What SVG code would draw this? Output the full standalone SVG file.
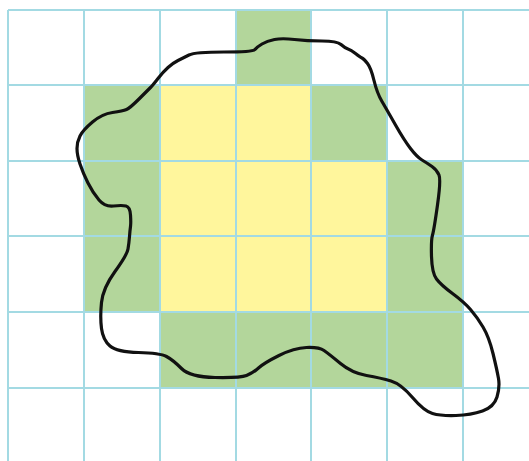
<svg xmlns="http://www.w3.org/2000/svg" width="529" height="461" viewBox="0 0 529 461">
<style>
.g{fill:#b3d69b}
.y{fill:#fff69c}
.grid line{stroke:#a3dae3;stroke-width:2}
.curve{fill:none;stroke:#111;stroke-width:3.2;stroke-linejoin:round;stroke-linecap:round}
</style>
<rect width="529" height="461" fill="#fff"/>
<g id="cells">
<rect class="g" x="236" y="10" width="75" height="75"/>
<rect class="g" x="84" y="85" width="76" height="76"/>
<rect class="y" x="160" y="85" width="76" height="76"/>
<rect class="y" x="236" y="85" width="75" height="76"/>
<rect class="g" x="311" y="85" width="76" height="76"/>
<rect class="g" x="84" y="161" width="76" height="75"/>
<rect class="y" x="160" y="161" width="76" height="75"/>
<rect class="y" x="236" y="161" width="75" height="75"/>
<rect class="y" x="311" y="161" width="76" height="75"/>
<rect class="g" x="387" y="161" width="76" height="75"/>
<rect class="g" x="84" y="236" width="76" height="76"/>
<rect class="y" x="160" y="236" width="76" height="76"/>
<rect class="y" x="236" y="236" width="75" height="76"/>
<rect class="y" x="311" y="236" width="76" height="76"/>
<rect class="g" x="387" y="236" width="76" height="76"/>
<rect class="g" x="160" y="312" width="76" height="76"/>
<rect class="g" x="236" y="312" width="75" height="76"/>
<rect class="g" x="311" y="312" width="76" height="76"/>
<rect class="g" x="387" y="312" width="76" height="76"/>
</g>
<g id="grid" class="grid">
<line x1="8" y1="10" x2="8" y2="461"/>
<line x1="84" y1="10" x2="84" y2="461"/>
<line x1="160" y1="10" x2="160" y2="461"/>
<line x1="236" y1="10" x2="236" y2="461"/>
<line x1="311" y1="10" x2="311" y2="461"/>
<line x1="387" y1="10" x2="387" y2="461"/>
<line x1="463" y1="10" x2="463" y2="461"/>
<line x1="8" y1="10" x2="529" y2="10"/>
<line x1="8" y1="85" x2="529" y2="85"/>
<line x1="8" y1="161" x2="529" y2="161"/>
<line x1="8" y1="236" x2="529" y2="236"/>
<line x1="8" y1="312" x2="529" y2="312"/>
<line x1="8" y1="388" x2="529" y2="388"/>
</g>
<g id="curve">
<path class="curve" d="M224,52 Q253,52 255,49.5 Q257,47 262,44 Q267,41 274.5,39.5 Q282,38 294.5,39.5 Q307,41 322,41 Q337,41 341,44.5 Q345,48 348,49 Q351,50 355.5,53.5 Q360,57 362,58 Q364,59 367.5,63.5 Q371,68 374,80.5 Q377,93 382,101.5 Q387,110 395.5,125 Q404,140 410.5,148.5 Q417,157 422,160 Q427,163 432,166.5 Q437,170 439,175 Q441,180 437.5,205 Q434,230 432.5,235 Q431,240 431.5,256.5 Q432,273 436.5,279 Q441,285 452.5,293.5 Q464,302 470.5,309.5 Q477,317 483,327 Q489,337 493,353.5 Q497,370 498.5,378.5 Q500,387 497,397 Q494,407 482.5,411 Q471,415 456,415.5 Q441,416 432.5,413.5 Q424,411 412.5,397.5 Q401,384 391,381 Q381,378 366.5,375.5 Q352,373 340.5,363.5 Q329,354 324,350.5 Q319,347 306.5,347.5 Q294,348 279,355.5 Q264,363 258.5,368 Q253,373 246.5,375.5 Q240,378 215,377.5 Q190,377 181.5,368.5 Q173,360 166.5,356.5 Q160,353 138.5,352.5 Q117,352 110,346 Q103,340 101.5,328.5 Q100,317 101.5,302.5 Q103,288 115,271.5 Q127,255 128,249 Q129,243 129.5,236.5 Q130,230 130.5,226.5 Q131,223 130.5,215 Q130,207 126,206 Q122,205 113.5,206 Q105,207 99,200 Q93,193 88,183 Q83,173 80,164 Q77,155 77,148.5 Q77,142 80,136 Q83,130 92.5,122 Q102,114 112.5,112.5 Q123,111 126.5,109.5 Q130,108 139,99 Q148,90 150.5,87.5 Q153,85 158,78.5 Q163,72 168,67.5 Q173,63 178,60.5 Q183,58 189,55 Q195,52 224,52 Z"/>
</g>
</svg>
